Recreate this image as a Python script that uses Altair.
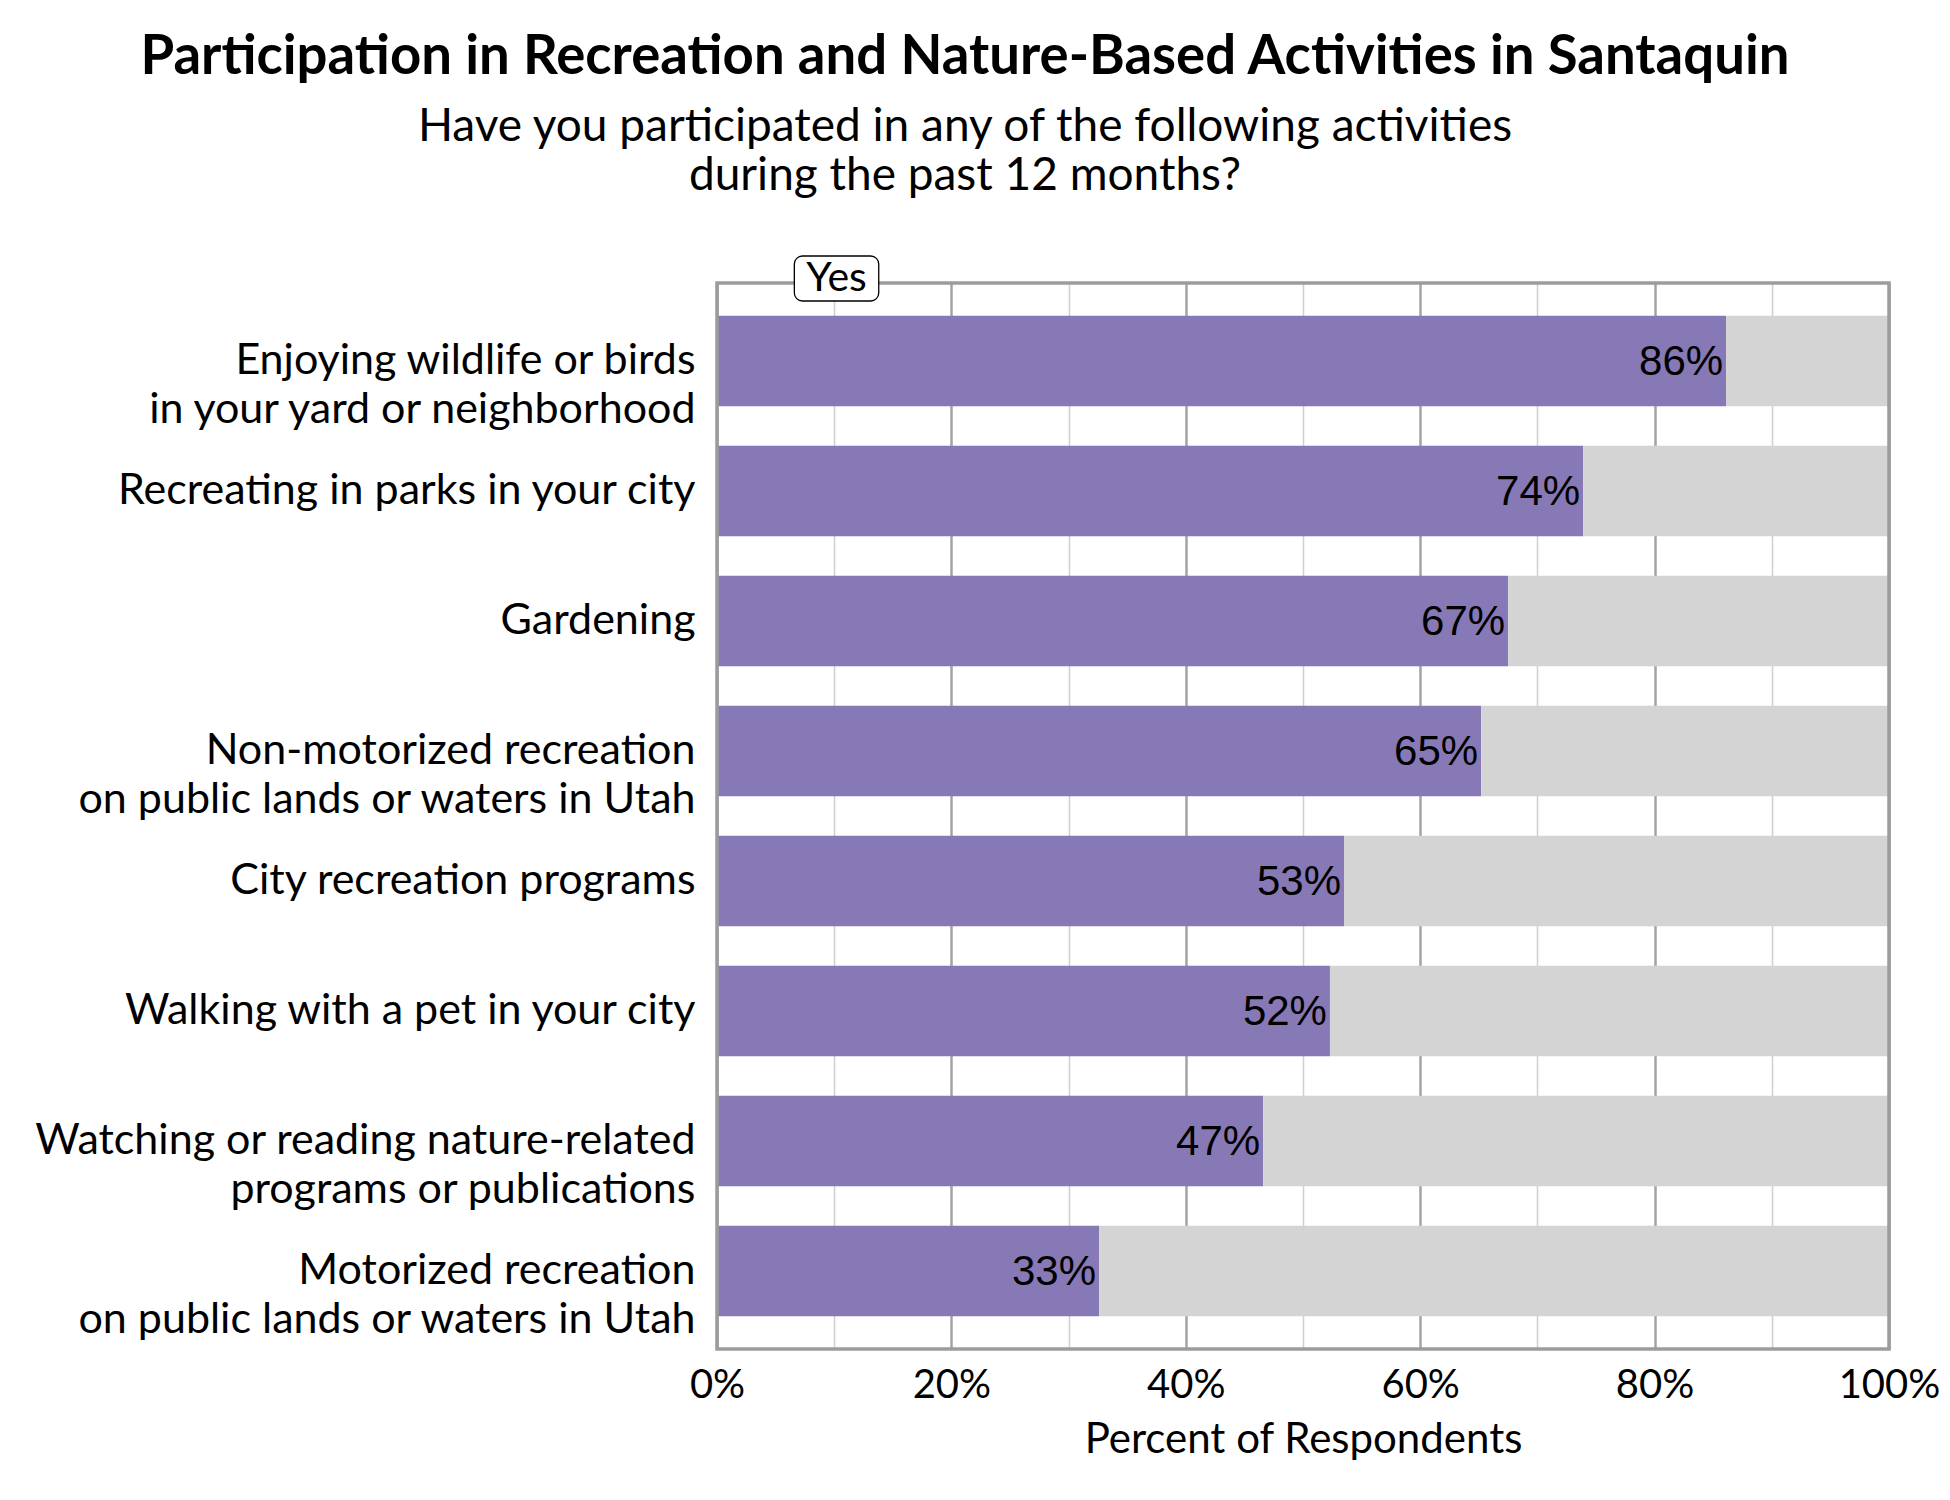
import altair as alt
import pandas as pd

categories = [
    "Enjoying wildlife or birds|in your yard or neighborhood",
    "Recreating in parks in your city",
    "Gardening",
    "Non-motorized recreation|on public lands or waters in Utah",
    "City recreation programs",
    "Walking with a pet in your city",
    "Watching or reading nature-related|programs or publications",
    "Motorized recreation|on public lands or waters in Utah",
]
yes_values = [86.1, 73.9, 67.5, 65.2, 53.5, 52.3, 46.6, 32.6]
yes_labels = ["86%", "74%", "67%", "65%", "53%", "52%", "47%", "33%"]
responses = ["Yes", "No"]
colors = ["#8779B5", "#D4D4D4"]
x_ticks = [0, 10, 20, 30, 40, 50, 60, 70, 80, 90, 100]

rows = []
for c, v, l in zip(categories, yes_values, yes_labels):
    rows.append({"cat": c, "resp": "Yes", "pct": v, "ord": 0, "label": l})
    rows.append({"cat": c, "resp": "No", "pct": round(100 - v, 1), "ord": 1, "label": ""})
df = pd.DataFrame(rows)

W, H = 1172, 1066
FONT = "Lato"

base = alt.Chart(df)

bars = base.mark_bar().encode(
    y=alt.Y(
        "cat:N",
        sort=categories,
        scale=alt.Scale(paddingInner=0.302, paddingOuter=0.251),
        axis=alt.Axis(
            title=None, ticks=False, domain=False, labelFont=FONT, labelFontSize=43,
            labelColor="black", labelPadding=22, labelLimit=1000,
            labelExpr="split(datum.label, '|')", labelLineHeight=49,
        ),
    ),
    x=alt.X(
        "pct:Q",
        stack="zero",
        scale=alt.Scale(domain=[0, 100], nice=False),
        axis=alt.Axis(
            title="Percent of Respondents", values=x_ticks,
            labelExpr="datum.value % 20 === 0 ? datum.value + '%' : ''",
            ticks=False, domain=False, labelFont=FONT, labelFontSize=40,
            labelColor="black", labelPadding=16, labelOverlap=False, labelFlush=False,
            titleFont=FONT, titleFontSize=42, titleFontWeight="normal", titleColor="black",
            titlePadding=14,
            gridColor={"condition": {"test": "datum.value % 20 === 0", "value": "#A3A3A3"}, "value": "#CFCFCF"},
            gridWidth={"condition": {"test": "datum.value % 20 === 0", "value": 2.5}, "value": 1.5},
        ),
    ),
    color=alt.Color("resp:N", scale=alt.Scale(domain=responses, range=colors), legend=None),
    order=alt.Order("ord:Q"),
)

text = base.transform_filter(alt.datum.resp == "Yes").mark_text(
    align="right", baseline="middle", dx=-3, dy=1, font="Liberation Sans", fontSize=42, color="black"
).encode(
    y=alt.Y("cat:N", sort=categories),
    x=alt.X("pct:Q"),
    text="label:N",
)

frame = alt.Chart(pd.DataFrame({"a": [0]})).mark_rect(
    fillOpacity=0, stroke="#9C9C9C", strokeWidth=3.5
).encode(x=alt.datum(0), x2=alt.datum(100), y=alt.value(0), y2=alt.value(H))

legend_df = pd.DataFrame({"resp": [responses[0]], "x0": [6.6], "x1": [13.8], "xm": [10.2]})
legend_box = alt.Chart(legend_df).mark_rect(
    fill="white", stroke="black", strokeWidth=1.3, cornerRadius=8
).encode(x="x0:Q", x2="x1:Q", y=alt.value(-27), y2=alt.value(18))
legend_text = alt.Chart(legend_df).mark_text(
    font=FONT, fontSize=41, color="black", align="center", baseline="middle"
).encode(x="xm:Q", y=alt.value(-4), text="resp:N")

chart = alt.layer(bars, text, frame, legend_box, legend_text).properties(
    width=W,
    height=H,
    title=alt.TitleParams(
        text="Participation in Recreation and Nature-Based Activities in Santaquin",
        subtitle=["Have you participated in any of the following activities", "during the past 12 months?"],
        anchor="middle", frame="group", dx=-338, offset=55,
        font=FONT, fontSize=54.5, fontWeight="bold", color="black",
        subtitleFont=FONT, subtitleFontSize=46, subtitleColor="black",
        subtitleLineHeight=49, subtitlePadding=20,
    ),
    autosize=alt.AutoSizeParams(type="none"),
    padding={"left": 709, "top": 275, "right": 53, "bottom": 130},
).configure_view(stroke=None).configure(background="white")

chart.save("out.html", embed_options={"renderer": "svg", "actions": False})
